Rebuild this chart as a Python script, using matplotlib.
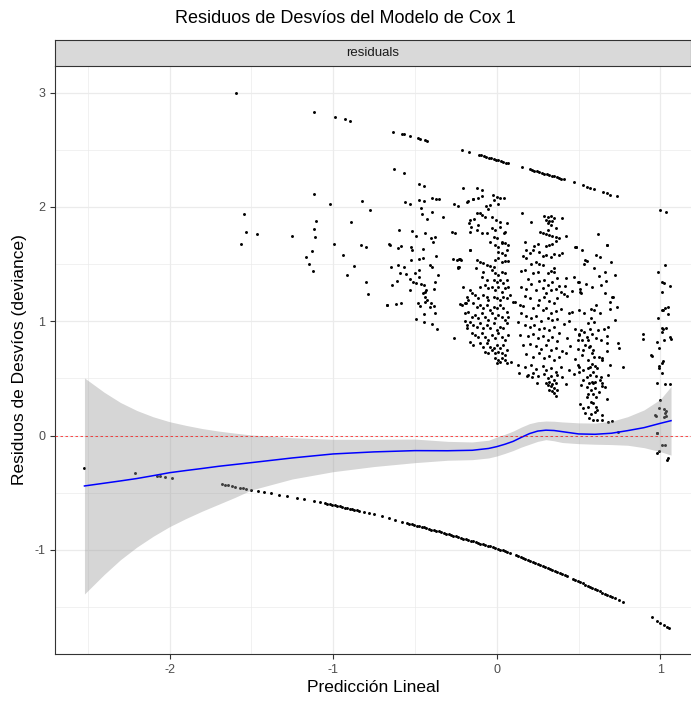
import matplotlib
matplotlib.use("Agg")
import matplotlib.pyplot as plt
from matplotlib.ticker import MultipleLocator

plt.rcParams['font.family'] = ['Liberation Sans', 'DejaVu Sans']
plt.rcParams['axes.unicode_minus'] = False

# --- data ------------------------------------------------------------------

# event residuals lying on the upper straight band
upper_x = [-1.594, -1.12, -0.986, -0.925, -0.898, -0.632, -0.581, -0.566, -0.530, -0.483,
           -0.469, -0.438, -0.428, -0.214, -0.167,
           -0.110, -0.095, -0.080, -0.065, -0.050, -0.035, -0.020, -0.005, 0.010, 0.025,
           0.040, 0.055, 0.070, 0.152,
           0.200, 0.215, 0.230, 0.245, 0.260, 0.275, 0.290, 0.305, 0.320, 0.335,
           0.350, 0.365, 0.380, 0.395, 0.410,
           0.472, 0.525, 0.550, 0.570, 0.594, 0.647, 0.672, 0.692, 0.737]
upper_y = [2.998, 2.835, 2.788, 2.768, 2.756, 2.657, 2.640, 2.634, 2.622, 2.605,
           2.596, 2.587, 2.581, 2.500, 2.479,
           2.457, 2.451, 2.445, 2.438, 2.432, 2.426, 2.420, 2.414, 2.407, 2.401,
           2.395, 2.389, 2.383, 2.348,
           2.329, 2.323, 2.317, 2.311, 2.305, 2.298, 2.292, 2.286, 2.280, 2.274,
           2.267, 2.261, 2.255, 2.249, 2.243,
           2.217, 2.190, 2.179, 2.164, 2.155, 2.132, 2.120, 2.109, 2.094]

# censored residuals on the lower curve
lower_x = [-1.68, -1.66, -1.64, -1.62, -1.60, -1.57, -1.55, -1.53, -1.50, -1.46,
           -1.42, -1.38, -1.33, -1.28, -1.22, -1.18, -1.12, -1.08, -1.05, -1.035,
           -1.02, -1.005, -0.99, -0.975, -0.96, -0.945, -0.93, -0.915, -0.90, -0.885,
           -0.87, -0.855, -0.84, -0.81, -0.78, -0.75, -0.70, -0.66, -0.62, -0.58,
           -0.550, -0.535, -0.520, -0.505, -0.490, -0.475, -0.460, -0.445, -0.430, -0.415,
           -0.400, -0.385, -0.370, -0.355, -0.340, -0.325, -0.310, -0.295, -0.280, -0.265,
           -0.250, -0.235, -0.220, -0.205, -0.190, -0.175, -0.160, -0.145, -0.130, -0.115,
           -0.100, -0.085, -0.070, -0.055, -0.040, -0.025, -0.010, 0.005, 0.020, 0.035,
           0.050, 0.065, 0.080, 0.115, 0.130, 0.145, 0.160, 0.175, 0.190, 0.205,
           0.220, 0.235, 0.250, 0.265, 0.280, 0.295, 0.310, 0.325, 0.340, 0.355,
           0.370, 0.385, 0.400, 0.415, 0.430, 0.465, 0.480, 0.495, 0.510, 0.525,
           0.540, 0.555, 0.570, 0.585, 0.600, 0.615, 0.630, 0.645, 0.660, 0.675,
           0.690, 0.705, 0.720, 0.745, 0.770,
           0.95, 0.98, 1.00, 1.02, 1.04, 1.05]
lower_y = [-0.425, -0.430, -0.435, -0.441, -0.446, -0.454, -0.459, -0.464, -0.472, -0.482,
           -0.493, -0.503, -0.517, -0.530, -0.547, -0.557, -0.574, -0.584, -0.593, -0.597,
           -0.601, -0.605, -0.609, -0.614, -0.619, -0.624, -0.629, -0.634, -0.639, -0.644,
           -0.649, -0.654, -0.659, -0.669, -0.679, -0.689, -0.706, -0.721, -0.736, -0.752,
           -0.763, -0.769, -0.775, -0.781, -0.786, -0.792, -0.798, -0.803, -0.809, -0.815,
           -0.821, -0.826, -0.832, -0.838, -0.844, -0.850, -0.857, -0.863, -0.869, -0.875,
           -0.881, -0.887, -0.894, -0.900, -0.906, -0.912, -0.919, -0.925, -0.931, -0.937,
           -0.944, -0.950, -0.956, -0.962, -0.968, -0.975, -0.981, -0.988, -0.996, -1.004,
           -1.012, -1.020, -1.028, -1.047, -1.056, -1.065, -1.073, -1.082, -1.091, -1.099,
           -1.108, -1.117, -1.126, -1.134, -1.143, -1.152, -1.161, -1.169, -1.178, -1.187,
           -1.196, -1.204, -1.213, -1.222, -1.231, -1.251, -1.261, -1.271, -1.281, -1.291,
           -1.302, -1.312, -1.322, -1.332, -1.343, -1.353, -1.363, -1.373, -1.384, -1.394,
           -1.404, -1.414, -1.424, -1.441, -1.458,
           -1.590, -1.620, -1.638, -1.657, -1.676, -1.685]

# isolated residuals at the far left
far_left = [(-2.52, -0.28), (-2.209, -0.329), (-2.077, -0.35), (-2.057, -0.353),
            (-2.026, -0.359), (-1.985, -0.367)]

# sparse cloud, linear predictor -1.6 .. -0.65
cloud_left = [(-1.116, 2.115), (-1.022, 2.03), (-0.821, 2.053), (-0.776, 1.977), (-1.546, 1.937),
              (-1.102, 1.878), (-0.894, 1.867), (-1.12, 1.806), (-1.53, 1.777), (-1.464, 1.765),
              (-1.25, 1.747), (-1.112, 1.738), (-1.565, 1.677), (-0.994, 1.677), (-0.831, 1.668),
              (-0.799, 1.651), (-0.656, 1.674), (-1.128, 1.616), (-1.169, 1.561), (-0.937, 1.584),
              (-1.147, 1.505), (-0.872, 1.482), (-1.124, 1.441), (-0.916, 1.409), (-0.799, 1.345),
              (-0.785, 1.24), (-0.673, 1.143)]

# column around -0.5
cloud_m05 = [(-0.627, 2.333), (-0.570, 2.295), (-0.473, 2.199), (-0.446, 2.187), (-0.560, 2.045),
             (-0.530, 2.024), (-0.473, 2.062), (-0.446, 2.053), (-0.397, 2.082), (-0.371, 2.071),
             (-0.355, 2.068), (-0.464, 1.995), (-0.456, 1.937), (-0.395, 1.957), (-0.330, 1.910),
             (-0.426, 1.899), (-0.599, 1.800), (-0.519, 1.794), (-0.495, 1.744), (-0.440, 1.776),
             (-0.405, 1.730), (-0.379, 1.741), (-0.654, 1.671), (-0.601, 1.642), (-0.585, 1.660),
             (-0.526, 1.654), (-0.521, 1.622), (-0.448, 1.630), (-0.389, 1.692), (-0.477, 1.543),
             (-0.526, 1.537), (-0.448, 1.558), (-0.371, 1.569), (-0.644, 1.479), (-0.601, 1.493),
             (-0.589, 1.421), (-0.552, 1.418), (-0.566, 1.479), (-0.499, 1.423), (-0.477, 1.447),
             (-0.473, 1.391), (-0.410, 1.493), (-0.395, 1.473), (-0.359, 1.403), (-0.609, 1.353),
             (-0.642, 1.316), (-0.532, 1.368), (-0.513, 1.348), (-0.495, 1.336), (-0.466, 1.327),
             (-0.450, 1.251), (-0.432, 1.275), (-0.438, 1.260), (-0.383, 1.283), (-0.444, 1.316),
             (-0.375, 1.345), (-0.530, 1.278), (-0.674, 1.146), (-0.615, 1.149), (-0.587, 1.158),
             (-0.481, 1.158), (-0.469, 1.138), (-0.438, 1.173), (-0.407, 1.129), (-0.383, 1.135),
             (-0.401, 1.164), (-0.493, 1.021), (-0.444, 0.995), (-0.397, 0.974), (-0.365, 0.931),
             (-0.446, 1.065), (-0.375, 1.076), (-0.436, 1.211), (-0.428, 1.187),
             (-0.261, 2.024), (-0.238, 2.010), (-0.275, 1.785), (-0.255, 1.776), (-0.269, 1.543),
             (-0.244, 1.537), (-0.224, 1.549), (-0.240, 1.464), (-0.232, 1.479), (-0.163, 1.628),
             (-0.177, 2.053), (-0.143, 2.068), (-0.224, 1.149), (-0.191, 1.164), (-0.261, 0.852),
             (-0.208, 1.304), (-0.193, 1.006), (-0.183, 0.939)]

# dense column around 0
cloud_0 = [(-0.204, 2.164), (-0.122, 2.164), (-0.092, 2.150), (-0.179, 2.047), (-0.143, 2.068),
           (-0.116, 2.077), (-0.092, 2.097), (-0.025, 2.106), (0.000, 2.091), (0.020, 2.077),
           (0.047, 2.077), (-0.014, 2.062), (-0.041, 2.018), (0.010, 2.027), (-0.065, 2.010),
           (-0.055, 1.980), (-0.163, 1.887), (-0.169, 1.864), (-0.137, 1.893), (-0.122, 1.945),
           (-0.102, 1.945), (-0.092, 1.931), (-0.071, 1.916), (-0.157, 1.829), (-0.112, 1.843),
           (-0.163, 1.785), (-0.122, 1.800), (-0.027, 1.910), (-0.006, 1.887), (0.020, 1.872),
           (0.061, 1.864), (-0.031, 1.814), (-0.010, 1.800), (0.020, 1.829), (0.051, 1.785),
           (-0.092, 1.770), (-0.061, 1.770), (-0.020, 1.741), (0.000, 1.727), (0.030, 1.697),
           (0.047, 1.770), (-0.041, 1.697), (-0.010, 1.668), (0.010, 1.654), (0.030, 1.683),
           (0.051, 1.683), (0.061, 1.625), (0.071, 1.668), (-0.163, 1.625), (-0.122, 1.537),
           (-0.102, 1.523), (-0.082, 1.508), (-0.061, 1.493), (-0.041, 1.485), (-0.020, 1.473),
           (-0.010, 1.537), (0.010, 1.552), (0.030, 1.523), (0.051, 1.531), (0.071, 1.528),
           (0.010, 1.610), (0.030, 1.595), (0.051, 1.581), (-0.230, 1.543), (-0.218, 1.537),
           (-0.238, 1.473), (-0.128, 1.464), (-0.082, 1.435), (-0.031, 1.450), (-0.010, 1.420),
           (0.010, 1.406), (0.030, 1.435), (0.051, 1.420), (-0.092, 1.391), (-0.061, 1.362),
           (-0.020, 1.362), (0.000, 1.348), (0.020, 1.362), (0.041, 1.333), (0.061, 1.362),
           (-0.102, 1.304), (-0.071, 1.318), (-0.051, 1.289), (-0.031, 1.304), (-0.010, 1.275),
           (0.010, 1.304), (0.030, 1.260), (0.051, 1.289), (0.071, 1.304), (-0.163, 1.275),
           (-0.153, 1.245), (-0.183, 1.216), (-0.173, 1.187), (-0.133, 1.231), (-0.112, 1.202),
           (-0.082, 1.231), (-0.061, 1.216), (-0.051, 1.187), (-0.020, 1.216), (0.000, 1.202),
           (0.020, 1.187), (0.041, 1.216), (0.061, 1.202), (0.081, 1.231), (-0.214, 1.143),
           (-0.194, 1.158), (-0.143, 1.158), (-0.122, 1.129), (-0.102, 1.143), (-0.082, 1.114),
           (-0.061, 1.143), (-0.041, 1.100), (-0.020, 1.129), (0.000, 1.114), (0.020, 1.143),
           (0.041, 1.114), (0.061, 1.085), (0.102, 1.173), (-0.194, 1.071), (-0.173, 1.085),
           (-0.153, 1.041), (-0.133, 1.056), (-0.112, 1.027), (-0.092, 1.071), (-0.071, 1.041),
           (-0.051, 1.012), (-0.031, 1.071), (-0.010, 1.027), (0.010, 1.056), (0.030, 1.041),
           (0.051, 1.012), (0.071, 1.041), (-0.163, 0.998), (-0.143, 0.968), (-0.122, 0.954),
           (-0.102, 0.983), (-0.082, 0.939), (-0.061, 0.968), (-0.041, 0.939), (-0.020, 0.983),
           (0.000, 0.925), (0.020, 0.954), (0.041, 0.939), (0.061, 0.983), (-0.183, 0.968),
           (-0.153, 0.896), (-0.133, 0.881), (-0.112, 0.866), (-0.092, 0.896), (-0.071, 0.866),
           (-0.051, 0.837), (-0.031, 0.881), (-0.010, 0.852), (0.010, 0.896), (0.030, 0.866),
           (0.051, 0.837), (0.071, 0.881), (-0.163, 0.823), (-0.143, 0.793), (-0.102, 0.808),
           (-0.082, 0.779), (-0.061, 0.808), (-0.041, 0.779), (-0.020, 0.764), (0.000, 0.793),
           (0.020, 0.764), (0.041, 0.793), (0.061, 0.750), (-0.071, 0.735), (-0.051, 0.721),
           (-0.031, 0.750), (-0.010, 0.721), (0.010, 0.735), (0.030, 0.721), (0.051, 0.706),
           (-0.010, 0.677), (0.010, 0.662), (0.030, 0.677), (0.051, 0.662), (0.000, 0.633),
           (0.020, 0.648), (0.061, 0.633), (0.112, 1.167), (0.087, 0.648)]

# column around 0.3
cloud_03 = [(0.152, 1.95), (0.29, 1.92), (0.31, 1.91), (0.33, 1.92), (0.35, 1.905), (0.30, 1.89),
            (0.32, 1.88), (0.34, 1.875), (0.31, 1.86), (0.33, 1.845), (0.40, 1.905), (0.21, 1.87),
            (0.36, 1.82), (0.315, 1.80), (0.265, 1.78), (0.28, 1.775), (0.30, 1.765), (0.32, 1.755),
            (0.34, 1.75), (0.36, 1.74), (0.38, 1.73), (0.42, 1.745), (0.17, 1.69), (0.23, 1.66),
            (0.25, 1.68), (0.30, 1.66), (0.32, 1.67), (0.34, 1.68), (0.36, 1.70), (0.48, 1.65),
            (0.18, 1.62), (0.20, 1.60), (0.22, 1.62), (0.26, 1.61), (0.28, 1.57), (0.30, 1.58),
            (0.33, 1.56), (0.35, 1.59), (0.38, 1.58), (0.40, 1.60), (0.16, 1.57), (0.18, 1.55),
            (0.24, 1.52), (0.26, 1.50), (0.28, 1.49), (0.35, 1.47), (0.21, 1.50), (0.15, 1.44),
            (0.17, 1.45), (0.22, 1.42), (0.25, 1.43), (0.31, 1.42), (0.33, 1.44), (0.35, 1.43),
            (0.37, 1.38), (0.42, 1.38), (0.19, 1.37), (0.21, 1.33), (0.26, 1.35), (0.29, 1.36),
            (0.31, 1.32), (0.34, 1.34), (0.38, 1.31), (0.47, 1.39), (0.15, 1.30), (0.18, 1.28),
            (0.24, 1.27), (0.28, 1.29), (0.30, 1.25), (0.33, 1.27), (0.36, 1.28), (0.39, 1.26),
            (0.43, 1.22), (0.51, 1.28), (0.17, 1.22), (0.20, 1.20), (0.26, 1.19), (0.29, 1.21),
            (0.32, 1.18), (0.35, 1.16), (0.37, 1.20), (0.41, 1.24), (0.14, 1.14), (0.16, 1.13),
            (0.22, 1.12), (0.25, 1.14), (0.28, 1.10), (0.30, 1.12), (0.33, 1.07), (0.36, 1.09),
            (0.39, 1.11), (0.46, 1.08), (0.50, 1.10), (0.15, 1.07), (0.18, 1.05), (0.21, 1.03),
            (0.24, 1.05), (0.27, 1.00), (0.31, 1.03), (0.34, 1.01), (0.37, 1.02), (0.41, 0.98),
            (0.44, 1.00), (0.13, 0.99), (0.17, 0.97), (0.20, 0.95), (0.23, 0.97), (0.26, 0.93),
            (0.29, 0.94), (0.32, 0.92), (0.35, 0.95), (0.38, 0.90), (0.48, 0.93), (0.14, 0.88),
            (0.19, 0.87), (0.22, 0.89), (0.25, 0.85), (0.28, 0.87), (0.31, 0.84), (0.34, 0.86),
            (0.37, 0.83), (0.43, 0.85), (0.50, 0.88), (0.16, 0.79), (0.20, 0.80), (0.24, 0.78),
            (0.27, 0.76), (0.30, 0.79), (0.33, 0.75), (0.36, 0.77), (0.40, 0.74), (0.45, 0.78),
            (0.18, 0.71), (0.22, 0.69), (0.26, 0.72), (0.29, 0.68), (0.32, 0.70), (0.35, 0.66),
            (0.38, 0.69), (0.42, 0.72), (0.48, 0.67), (0.13, 0.62), (0.17, 0.60), (0.21, 0.62),
            (0.24, 0.58), (0.28, 0.61), (0.30, 0.57), (0.33, 0.59), (0.36, 0.56), (0.39, 0.60),
            (0.44, 0.57), (0.50, 0.60), (0.19, 0.53), (0.22, 0.55), (0.25, 0.52), (0.29, 0.54),
            (0.31, 0.50), (0.33, 0.52), (0.35, 0.49), (0.37, 0.53), (0.40, 0.51), (0.47, 0.54),
            (0.30, 0.46), (0.31, 0.44), (0.32, 0.47), (0.33, 0.43), (0.34, 0.45), (0.35, 0.42),
            (0.36, 0.46), (0.32, 0.40), (0.34, 0.39), (0.35, 0.37), (0.37, 0.40), (0.36, 0.35),
            (0.42, 0.45), (0.138, 0.546), (0.183, 0.522), (0.214, 0.516), (0.244, 0.458),
            (0.462, 1.263), (0.417, 1.312), (0.444, 1.076)]

# column around 0.6
cloud_06 = [(0.482, 1.648), (0.523, 1.625), (0.671, 1.671), (0.539, 1.537), (0.549, 1.528),
            (0.535, 1.502), (0.604, 1.581), (0.631, 1.566), (0.698, 1.522), (0.594, 1.470),
            (0.661, 1.429), (0.625, 1.397), (0.722, 1.406), (0.665, 1.353), (0.498, 1.347),
            (0.545, 1.327), (0.584, 1.298), (0.635, 1.315), (0.509, 1.254), (0.515, 1.245),
            (0.661, 1.251), (0.702, 1.216), (0.712, 1.210), (0.694, 1.170), (0.733, 1.129),
            (0.576, 1.108), (0.604, 1.140), (0.535, 1.070), (0.596, 1.100), (0.631, 1.076),
            (0.692, 1.105), (0.722, 1.012), (0.576, 1.027), (0.559, 0.989), (0.596, 0.997),
            (0.515, 0.925), (0.502, 0.890), (0.535, 0.904), (0.570, 0.930), (0.616, 0.925),
            (0.657, 0.936), (0.682, 0.948), (0.549, 0.866), (0.584, 0.890), (0.671, 0.872),
            (0.498, 0.837), (0.523, 0.837), (0.559, 0.837), (0.604, 0.852), (0.637, 0.837),
            (0.539, 0.793), (0.570, 0.785), (0.671, 0.808), (0.743, 0.814), (0.494, 0.755),
            (0.525, 0.750), (0.564, 0.773), (0.590, 0.750), (0.671, 0.741), (0.749, 0.767),
            (0.519, 0.706), (0.580, 0.720), (0.625, 0.691), (0.641, 0.677), (0.559, 0.662),
            (0.596, 0.685), (0.498, 0.615), (0.570, 0.604), (0.580, 0.627), (0.600, 0.610),
            (0.610, 0.595), (0.555, 0.592), (0.641, 0.662), (0.692, 0.618), (0.773, 0.598),
            (0.529, 0.575), (0.586, 0.560), (0.502, 0.560), (0.570, 0.531), (0.549, 0.516),
            (0.604, 0.522), (0.637, 0.510), (0.682, 0.534), (0.529, 0.487), (0.564, 0.464),
            (0.584, 0.473), (0.600, 0.473), (0.631, 0.487), (0.645, 0.458), (0.515, 0.443),
            (0.549, 0.429), (0.590, 0.458), (0.661, 0.429), (0.576, 0.400), (0.600, 0.414),
            (0.625, 0.385), (0.559, 0.362), (0.590, 0.365), (0.604, 0.341), (0.641, 0.435),
            (0.671, 0.318), (0.549, 0.336), (0.576, 0.298), (0.590, 0.283), (0.509, 0.277),
            (0.529, 0.239), (0.555, 0.254), (0.604, 0.248), (0.539, 0.196), (0.576, 0.190),
            (0.600, 0.210), (0.610, 0.225), (0.641, 0.181), (0.564, 0.152), (0.590, 0.137),
            (0.610, 0.137), (0.641, 0.137), (0.678, 0.123), (0.702, 0.131), (0.743, 0.035),
            (0.617, 1.762), (0.672, 1.671), (0.484, 1.654), (0.505, 1.345)]

# column around 1
cloud_1 = [(0.998, 1.975), (1.032, 1.955), (1.028, 1.493), (0.987, 1.435), (1.011, 1.342),
           (1.024, 1.333), (1.058, 1.312), (1.007, 1.254), (1.044, 1.129), (1.028, 1.114),
           (1.011, 1.100), (1.044, 1.065), (0.987, 1.032), (1.011, 0.939), (1.011, 0.910),
           (1.032, 0.939), (1.058, 0.860), (1.064, 0.843), (0.895, 0.887), (0.895, 0.843),
           (0.981, 0.823), (0.993, 0.764), (0.946, 0.697), (1.018, 0.656), (1.011, 0.639),
           (0.993, 0.610), (0.991, 0.592), (1.007, 0.545), (0.981, 0.458), (1.028, 0.452),
           (1.058, 0.449), (0.991, 0.239), (1.022, 0.231), (1.028, 0.202), (1.034, 0.172),
           (0.971, 0.172), (0.977, 0.026), (0.979, 0.021), (0.977, -0.149), (0.993, -0.131),
           (1.008, -0.081), (1.028, -0.081), (1.038, -0.213), (1.048, -0.198), (0.967, 0.181),
           (0.998, 0.312), (1.022, 0.166), (1.032, 0.219), (1.014, 0.931), (1.022, 0.837),
           (0.943, 0.703), (1.016, 1.10)]

# loess fit with its confidence band
smooth_x = [-2.52, -2.4, -2.3, -2.2, -2.1, -2.0, -1.9, -1.8, -1.7, -1.6, -1.5, -1.25, -1.0,
            -0.75, -0.5, -0.3, -0.15, -0.05, 0.0, 0.05, 0.1, 0.15, 0.2, 0.25, 0.3, 0.35, 0.4,
            0.5, 0.6, 0.7, 0.8, 0.9, 1.0, 1.065]
smooth_fit = [-0.44, -0.416, -0.396, -0.375, -0.35, -0.324, -0.305, -0.287, -0.268, -0.252,
              -0.236, -0.195, -0.16, -0.142, -0.131, -0.132, -0.128, -0.112, -0.096, -0.075,
              -0.05, -0.015, 0.018, 0.040, 0.048, 0.045, 0.035, 0.015, 0.012, 0.021, 0.044,
              0.07, 0.108, 0.131]
smooth_hi = [0.505, 0.38, 0.29, 0.22, 0.165, 0.122, 0.09, 0.062, 0.04, 0.022, 0.006, -0.018,
             -0.032, -0.032, -0.03, -0.05, -0.055, -0.04, -0.012, 0.012, 0.04, 0.075, 0.105,
             0.122, 0.128, 0.126, 0.12, 0.112, 0.11, 0.125, 0.166, 0.225, 0.318, 0.43]
smooth_lo = [-1.385, -1.215, -1.085, -0.975, -0.88, -0.796, -0.725, -0.66, -0.60, -0.54,
             -0.475, -0.379, -0.315, -0.27, -0.236, -0.215, -0.21, -0.195, -0.178, -0.155,
             -0.13, -0.10, -0.075, -0.05, -0.035, -0.045, -0.06, -0.07, -0.075, -0.078,
             -0.084, -0.105, -0.14, -0.17]

# --- figure ----------------------------------------------------------------
fig = plt.figure(figsize=(6.91, 7.01), dpi=100)
ax = fig.add_axes([0.0796, 0.067, 0.9204, 0.839])

pts_x, pts_y = list(upper_x) + list(lower_x), list(upper_y) + list(lower_y)
for grp in (far_left, cloud_left, cloud_m05, cloud_0, cloud_03, cloud_06, cloud_1):
    pts_x += [p[0] for p in grp]
    pts_y += [p[1] for p in grp]

ax.scatter(pts_x, pts_y, s=4.5, c='black', linewidths=0, zorder=2)
ax.fill_between(smooth_x, smooth_lo, smooth_hi, color='#999999', alpha=0.4,
                linewidth=0, zorder=3)
ax.plot(smooth_x, smooth_fit, color='blue', lw=1.1, zorder=4)
ax.axhline(0, color='red', lw=0.6, ls=(0, (3, 3)), alpha=0.8, zorder=5)

ax.set_xlim(-2.70, 1.187)
ax.set_ylim(-1.91, 3.234)
ax.xaxis.set_major_locator(MultipleLocator(1))
ax.xaxis.set_minor_locator(MultipleLocator(0.5))
ax.yaxis.set_major_locator(MultipleLocator(1))
ax.yaxis.set_minor_locator(MultipleLocator(0.5))

ax.grid(True, which='major', color='#EBEBEB', lw=0.9)
ax.grid(True, which='minor', color='#EBEBEB', lw=0.5)
ax.set_axisbelow(True)
for side in ('top', 'right'):
    ax.spines[side].set_visible(False)
for side in ('left', 'bottom'):
    ax.spines[side].set_color('#333333')
    ax.spines[side].set_linewidth(0.8)
ax.tick_params(which='major', length=3.5, width=0.8, color='#333333',
               labelcolor='#4D4D4D', labelsize=9)
ax.tick_params(which='minor', length=0)

ax.set_xlabel('Predicción Lineal', fontsize=12.5, labelpad=3)
ax.set_ylabel('Residuos de Desvíos (deviance)', fontsize=12.5, labelpad=5)

# facet strip
strip = fig.add_axes([0.0796, 0.906, 0.9204, 0.037])
strip.set_facecolor('#D9D9D9')
strip.set_xticks([])
strip.set_yticks([])
for sp in strip.spines.values():
    sp.set_color('#333333')
    sp.set_linewidth(0.8)
strip.text(0.5, 0.5, 'residuals', ha='center', va='center', fontsize=9.5, color='#1A1A1A')

fig.text(0.5, 0.974, 'Residuos de Desvíos del Modelo de Cox 1', ha='center', va='center',
         fontsize=13)

plt.savefig('out.png', dpi=100)
